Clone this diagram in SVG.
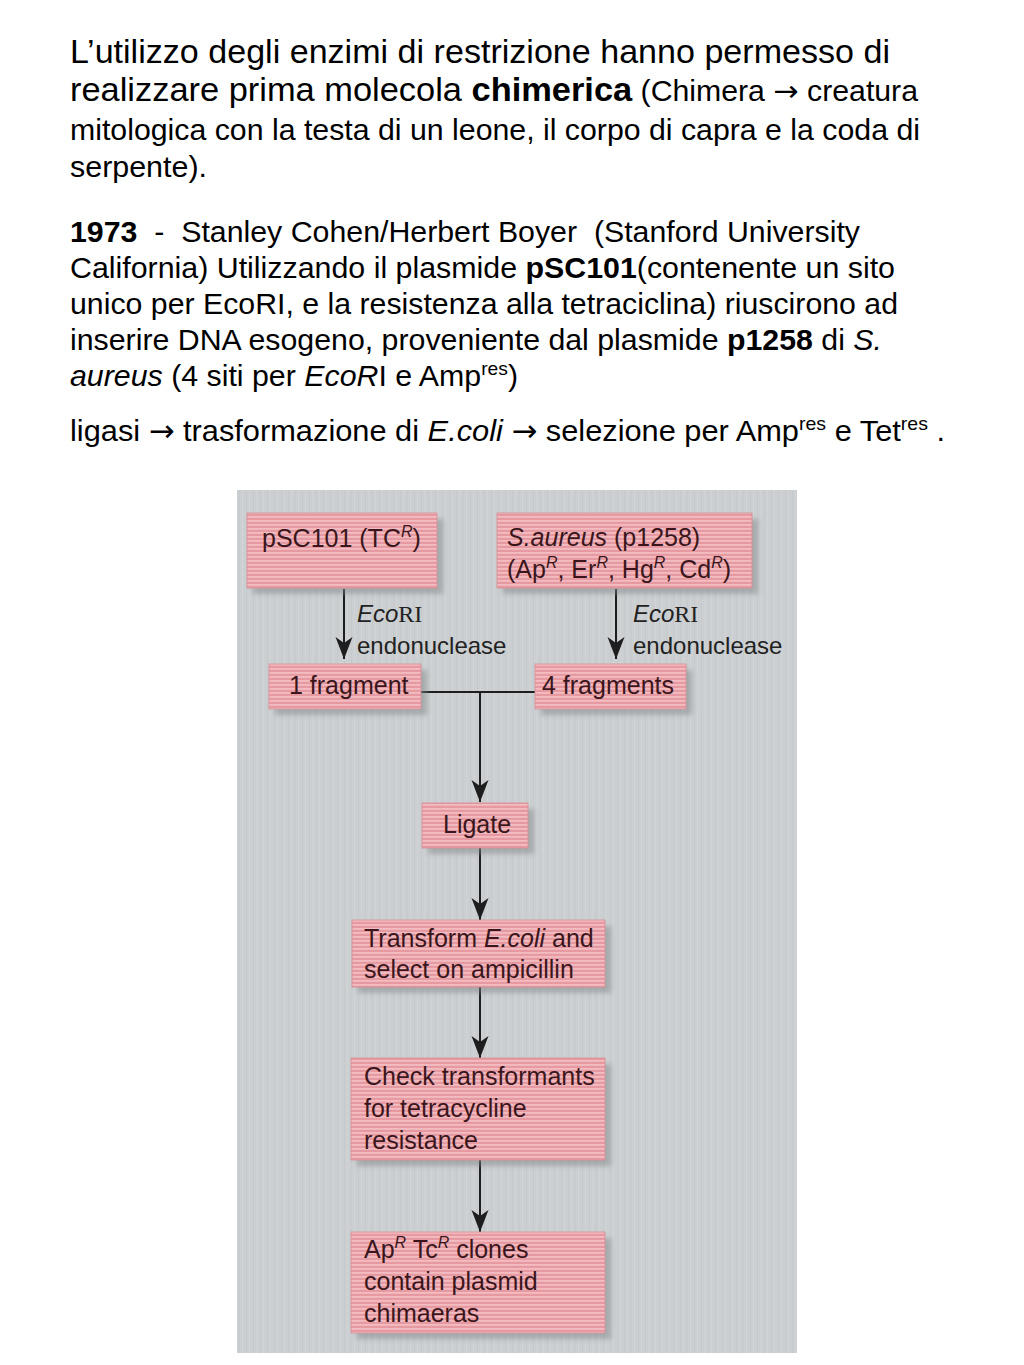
<svg xmlns="http://www.w3.org/2000/svg" width="1024" height="1365" viewBox="0 0 1024 1365">
<defs>
<style>
.t{font-family:"Liberation Sans",Arial,sans-serif;fill:#000;}
.b{font-weight:bold;}
.i{font-style:italic;}
.arw{font-family:"DejaVu Sans",sans-serif;}
.d{font-family:"Liberation Sans",Arial,sans-serif;font-size:25px;fill:#3a161c;}
.lab{font-family:"Liberation Sans",Arial,sans-serif;font-size:24px;fill:#222;}
.ser{font-family:"Liberation Serif","Times New Roman",serif;}
.box{fill:url(#stripes);stroke:#d68d95;stroke-width:0.8;}
.sh{fill:#7f8486;opacity:0.5;filter:url(#blur);}
.ln{stroke:#1e1e1e;stroke-width:2;fill:none;}
.ar{stroke:#1e1e1e;stroke-width:2;fill:none;marker-end:url(#ah);}
</style>
<pattern id="stripes" patternUnits="userSpaceOnUse" width="8" height="4">
<rect width="8" height="4" fill="#e699a1"/>
<rect y="0" width="8" height="1.8" fill="#f2bcc0"/>
</pattern>
<pattern id="grain" patternUnits="userSpaceOnUse" width="7" height="7">
<rect width="7" height="7" fill="#cbcfd1"/>
<rect x="1" width="1" height="7" fill="#c6cacc"/>
<rect x="4" width="1" height="7" fill="#d0d4d5"/>
</pattern>
<filter id="blur" x="-10%" y="-20%" width="120%" height="140%">
<feGaussianBlur stdDeviation="2.5"/>
</filter>
<marker id="ah" markerUnits="userSpaceOnUse" viewBox="0 -9 23 18" refX="22" refY="0" markerWidth="23" markerHeight="18" orient="auto">
<path d="M0,-8.5 L22,0 L0,8.5 L6,0 Z" fill="#1e1e1e"/>
</marker>
</defs>
<rect width="1024" height="1365" fill="#ffffff"/>

<g id="intro-text">
<text class="t" x="70" y="63" font-size="33" textLength="820" lengthAdjust="spacingAndGlyphs">L’utilizzo degli enzimi di restrizione hanno permesso di</text>
<text class="t" x="70" y="101" font-size="33" textLength="848" lengthAdjust="spacingAndGlyphs">realizzare prima molecola <tspan class="b">chimerica</tspan><tspan font-size="29"> (Chimera <tspan class="arw">→</tspan> creatura</tspan></text>
<text class="t" x="70" y="140" font-size="29" textLength="850" lengthAdjust="spacingAndGlyphs">mitologica con la testa di un leone, il corpo di capra e la coda di</text>
<text class="t" x="70" y="177" font-size="29" textLength="137" lengthAdjust="spacingAndGlyphs">serpente).</text>
</g>

<g id="history-text">
<text class="t" x="70" y="242" font-size="30" xml:space="preserve" textLength="790" lengthAdjust="spacingAndGlyphs"><tspan class="b">1973</tspan>  -  Stanley Cohen/Herbert Boyer  (Stanford University</text>
<text class="t" x="70" y="278" font-size="30" textLength="825" lengthAdjust="spacingAndGlyphs">California) Utilizzando il plasmide <tspan class="b">pSC101</tspan>(contenente un sito</text>
<text class="t" x="70" y="314" font-size="30" textLength="828" lengthAdjust="spacingAndGlyphs">unico per EcoRI, e la resistenza alla tetraciclina) riuscirono ad</text>
<text class="t" x="70" y="350" font-size="30" textLength="812" lengthAdjust="spacingAndGlyphs">inserire DNA esogeno, proveniente dal plasmide <tspan class="b">p1258</tspan> di <tspan class="i">S.</tspan></text>
<text class="t" x="70" y="386" font-size="30" textLength="448" lengthAdjust="spacingAndGlyphs"><tspan class="i">aureus</tspan> (4 siti per <tspan class="i">EcoR</tspan>I e Amp<tspan font-size="19" dy="-11">res</tspan><tspan dy="11">)</tspan></text>
<text class="t" x="70" y="441" font-size="30" textLength="875" lengthAdjust="spacingAndGlyphs">ligasi <tspan class="arw">→</tspan> trasformazione di <tspan class="i">E.coli</tspan> <tspan class="arw">→</tspan> selezione per Amp<tspan font-size="19" dy="-11">res</tspan><tspan dy="11"> e Tet</tspan><tspan font-size="19" dy="-11">res</tspan><tspan dy="11"> .</tspan></text>
</g>

<g id="panel">
<rect x="237" y="490" width="560" height="863" fill="url(#grain)"/>
</g>

<g id="connectors">
<line class="ar" x1="344" y1="589" x2="344" y2="659"/>
<line class="ar" x1="616" y1="589" x2="616" y2="659"/>
<line class="ln" x1="421" y1="692" x2="535" y2="692"/>
<line class="ar" x1="480" y1="692" x2="480" y2="802"/>
<line class="ar" x1="480" y1="848" x2="480" y2="920"/>
<line class="ar" x1="480" y1="987" x2="480" y2="1058"/>
<line class="ar" x1="480" y1="1160" x2="480" y2="1232"/>
<text class="lab" x="357" y="622"><tspan class="i">Eco</tspan><tspan class="ser">RI</tspan></text>
<text class="lab" x="357" y="654">endonuclease</text>
<text class="lab" x="633" y="622"><tspan class="i">Eco</tspan><tspan class="ser">RI</tspan></text>
<text class="lab" x="633" y="654">endonuclease</text>
</g>

<g id="node-psc101">
<rect class="sh" x="253" y="519" width="190" height="75"/>
<rect class="box" x="247" y="513" width="190" height="75"/>
<text class="d" x="262" y="547">pSC101 (TC<tspan class="i" font-size="16" dy="-10">R</tspan><tspan dy="10">)</tspan></text>
</g>

<g id="node-saureus">
<rect class="sh" x="503" y="519" width="255" height="75"/>
<rect class="box" x="497" y="513" width="255" height="75"/>
<text class="d" x="507" y="546"><tspan class="i">S.aureus</tspan> (p1258)</text>
<text class="d" x="507" y="578">(Ap<tspan class="i" font-size="16" dy="-10">R</tspan><tspan dy="10">, Er</tspan><tspan class="i" font-size="16" dy="-10">R</tspan><tspan dy="10">, Hg</tspan><tspan class="i" font-size="16" dy="-10">R</tspan><tspan dy="10">, Cd</tspan><tspan class="i" font-size="16" dy="-10">R</tspan><tspan dy="10">)</tspan></text>
</g>

<g id="node-1fragment">
<rect class="sh" x="275" y="670" width="152" height="45"/>
<rect class="box" x="269" y="664" width="152" height="45"/>
<text class="d" x="289" y="694">1 fragment</text>
</g>

<g id="node-4fragments">
<rect class="sh" x="541" y="670" width="151" height="45"/>
<rect class="box" x="535" y="664" width="151" height="45"/>
<text class="d" x="542" y="694">4 fragments</text>
</g>

<g id="node-ligate">
<rect class="sh" x="428" y="809" width="106" height="45"/>
<rect class="box" x="422" y="803" width="106" height="45"/>
<text class="d" x="443" y="833">Ligate</text>
</g>

<g id="node-transform">
<rect class="sh" x="358" y="926" width="253" height="67"/>
<rect class="box" x="352" y="920" width="253" height="67"/>
<text class="d" x="364" y="947">Transform <tspan class="i">E.coli</tspan> and</text>
<text class="d" x="364" y="978">select on ampicillin</text>
</g>

<g id="node-check">
<rect class="sh" x="357" y="1064" width="254" height="102"/>
<rect class="box" x="351" y="1058" width="254" height="102"/>
<text class="d" x="364" y="1085">Check transformants</text>
<text class="d" x="364" y="1117">for tetracycline</text>
<text class="d" x="364" y="1149">resistance</text>
</g>

<g id="node-clones">
<rect class="sh" x="357" y="1238" width="254" height="101"/>
<rect class="box" x="351" y="1232" width="254" height="101"/>
<text class="d" x="364" y="1258">Ap<tspan class="i" font-size="16" dy="-10">R</tspan><tspan dy="10"> Tc</tspan><tspan class="i" font-size="16" dy="-10">R</tspan><tspan dy="10"> clones</tspan></text>
<text class="d" x="364" y="1290">contain plasmid</text>
<text class="d" x="364" y="1322">chimaeras</text>
</g>
</svg>
